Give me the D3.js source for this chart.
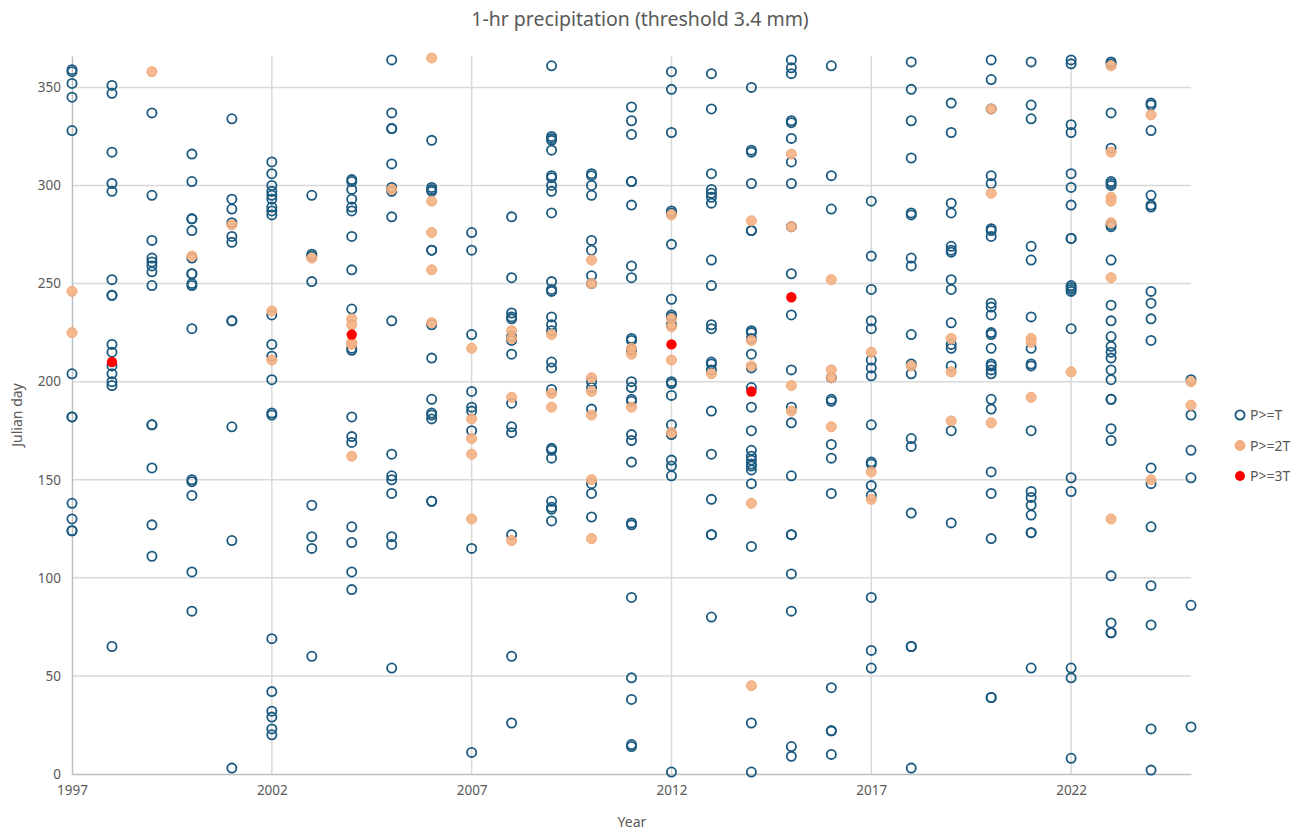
<!DOCTYPE html>
<html>
<head>
<meta charset="utf-8">
<script src="https://cdn.jsdelivr.net/npm/d3@7"></script>
<style>
  body { margin: 0; background: #fff; }
  svg text { font-family: "Noto Sans", "Open Sans", sans-serif; fill: #595959; }
</style>
</head>
<body>
<svg id="chart"></svg>
<script>
// anni (asse x) e giorni giuliani per ogni serie, un elenco per anno
var years = [1997, 1998, 1999, 2000, 2001, 2002, 2003, 2004, 2005, 2006, 2007, 2008, 2009, 2010,
             2011, 2012, 2013, 2014, 2015, 2016, 2017, 2018, 2019, 2020, 2021, 2022, 2023, 2024, 2025];

// P>=T
var daysT = [
  [359, 358, 352, 345, 328, 204, 182, 182, 138, 130, 124, 124],
  [351, 347, 317, 301, 297, 252, 244, 244, 219, 215, 208, 204, 200, 198, 65],
  [337, 295, 272, 263, 261, 259, 256, 249, 178, 178, 156, 127, 111],
  [316, 302, 283, 283, 277, 263, 255, 255, 250, 249, 227, 150, 149, 142, 103, 83],
  [334, 293, 288, 281, 274, 271, 231, 231, 177, 119, 3],
  [312, 306, 300, 297, 295, 293, 289, 287, 285, 234, 219, 213, 201, 184, 183, 69, 42, 32, 29, 23, 20],
  [295, 265, 264, 251, 137, 121, 115, 60],
  [303, 302, 298, 293, 289, 287, 274, 257, 237, 217, 216, 182, 172, 169, 126, 118, 103, 94],
  [364, 337, 329, 329, 311, 299, 297, 284, 231, 163, 152, 150, 143, 121, 117, 54],
  [323, 299, 298, 297, 267, 267, 229, 212, 191, 184, 183, 181, 139, 139],
  [276, 267, 224, 195, 187, 185, 175, 115, 11],
  [284, 253, 235, 233, 232, 223, 221, 214, 189, 177, 174, 122, 60, 26],
  [361, 325, 324, 323, 318, 305, 304, 300, 297, 286, 251, 247, 246, 233, 229, 226, 210, 207, 196, 166, 165, 161, 139, 136, 135, 129],
  [306, 305, 300, 295, 272, 267, 254, 250, 200, 197, 186, 148, 143, 131],
  [340, 333, 326, 302, 302, 290, 259, 253, 222, 221, 216, 200, 197, 191, 190, 173, 170, 159, 128, 127, 90, 49, 38, 15, 14],
  [358, 349, 327, 287, 286, 270, 242, 234, 233, 229, 200, 199, 193, 178, 173, 160, 157, 152, 1],
  [357, 339, 306, 298, 296, 294, 291, 262, 249, 229, 227, 210, 209, 206, 185, 163, 140, 122, 122, 80],
  [350, 318, 317, 301, 277, 277, 226, 225, 222, 214, 207, 197, 187, 175, 165, 162, 160, 158, 157, 155, 148, 116, 26, 1],
  [364, 360, 357, 333, 332, 324, 312, 301, 279, 255, 234, 206, 187, 179, 152, 122, 122, 102, 83, 14, 9],
  [361, 305, 288, 202, 191, 190, 168, 161, 143, 44, 22, 22, 10],
  [292, 264, 247, 231, 227, 211, 207, 203, 178, 159, 158, 147, 142, 90, 63, 54],
  [363, 349, 333, 314, 286, 285, 263, 259, 224, 209, 204, 171, 167, 133, 65, 65, 3],
  [342, 327, 291, 286, 269, 267, 266, 252, 247, 230, 219, 217, 208, 175, 128],
  [364, 354, 339, 305, 301, 278, 277, 274, 240, 238, 234, 225, 224, 217, 209, 208, 206, 204, 191, 186, 154, 143, 120, 39, 39],
  [363, 341, 334, 269, 262, 233, 217, 209, 208, 175, 144, 141, 137, 132, 123, 123, 54],
  [364, 362, 331, 327, 306, 299, 290, 273, 273, 249, 248, 247, 246, 227, 151, 144, 54, 49, 8],
  [363, 362, 337, 319, 302, 301, 300, 280, 279, 262, 239, 231, 223, 218, 215, 212, 206, 201, 191, 191, 176, 170, 101, 77, 72, 72],
  [342, 341, 328, 295, 290, 289, 246, 240, 232, 221, 156, 148, 126, 96, 76, 23, 2],
  [201, 183, 165, 151, 86, 24]
];

// P>=2T
var days2T = [
  [246, 225], [], [358], [264], [280], [236, 211], [263], [232, 229, 220, 219, 162], [298],
  [365, 292, 276, 257, 230], [217, 181, 171, 163, 130], [226, 222, 192, 119], [224, 194, 187],
  [262, 250, 202, 195, 183, 150, 120], [217, 214, 187], [285, 232, 228, 211, 174], [204],
  [282, 221, 208, 138, 45], [316, 279, 198, 185], [252, 206, 202, 177], [215, 154, 140], [208],
  [222, 205, 180], [339, 296, 179], [222, 220, 192], [205], [361, 317, 294, 292, 281, 253, 130],
  [336, 150], [200, 188]
];

// P>=3T
var days3T = [
  [], [210], [], [], [], [], [], [224], [], [], [], [], [], [], [], [219], [], [195], [243],
  [], [], [], [], [], [], [], [], [], []
];

var seriesNames = ["P>=T", "P>=2T", "P>=3T"];
var xTicks = [1997, 2002, 2007, 2012, 2017, 2022];
var yTicks = [0, 50, 100, 150, 200, 250, 300, 350];

var width = 1303, height = 835;
var plotLeft = 72, plotRight = 1191, plotTop = 56, plotBottom = 774;

function toPoints(list) {
  var pts = [];
  for (var i = 0; i < years.length; i++) {
    for (var j = 0; j < list[i].length; j++) {
      pts.push({ year: years[i], day: list[i][j] });
    }
  }
  return pts;
}

var svg = d3.select("#chart").attr("width", width).attr("height", height);

var x = d3.scaleLinear().domain([1997, 2025]).range([plotLeft, plotRight]);
var y = d3.scaleLinear().domain([0, 366]).range([plotBottom, plotTop]);

// griglia
svg.append("g").selectAll("line")
  .data(yTicks.filter(function(d) { return d > 0; }))
  .enter().append("line")
  .attr("x1", plotLeft).attr("x2", plotRight)
  .attr("y1", function(d) { return y(d); }).attr("y2", function(d) { return y(d); })
  .attr("stroke", "#d9d9d9").attr("stroke-width", 1.5);

svg.append("g").selectAll("line")
  .data(xTicks.filter(function(d) { return d > 1997; }))
  .enter().append("line")
  .attr("x1", function(d) { return x(d); }).attr("x2", function(d) { return x(d); })
  .attr("y1", plotTop).attr("y2", plotBottom)
  .attr("stroke", "#d9d9d9").attr("stroke-width", 1.5);

// assi
var xAxis = svg.append("g")
  .attr("transform", "translate(0," + plotBottom + ")")
  .call(d3.axisBottom(x).tickValues(xTicks).tickFormat(d3.format("d")).tickSize(0).tickPadding(11));
var yAxis = svg.append("g")
  .attr("transform", "translate(" + plotLeft + ",0)")
  .call(d3.axisLeft(y).tickValues(yTicks).tickSize(0).tickPadding(11));

xAxis.select(".domain").attr("stroke", "#bfbfbf").attr("stroke-width", 1.5);
yAxis.select(".domain").attr("stroke", "#bfbfbf").attr("stroke-width", 1.5);
svg.selectAll(".tick text").style("font-size", "13.5px").attr("fill", "#595959");

// punti
svg.append("g").selectAll("circle")
  .data(toPoints(daysT))
  .enter().append("circle")
  .attr("cx", function(d) { return x(d.year); })
  .attr("cy", function(d) { return y(d.day); })
  .attr("r", 4.6)
  .attr("fill", "none")
  .attr("stroke", "#1b5a80")
  .attr("stroke-width", 1.8);

svg.append("g").selectAll("circle")
  .data(toPoints(days2T))
  .enter().append("circle")
  .attr("cx", function(d) { return x(d.year); })
  .attr("cy", function(d) { return y(d.day); })
  .attr("r", 5)
  .attr("fill", "#f4b183")
  .attr("fill-opacity", 0.9)
  .attr("stroke", "#f2a877")
  .attr("stroke-width", 1);

svg.append("g").selectAll("circle")
  .data(toPoints(days3T))
  .enter().append("circle")
  .attr("cx", function(d) { return x(d.year); })
  .attr("cy", function(d) { return y(d.day); })
  .attr("r", 5.2)
  .attr("fill", "#ff0000");

// titolo ed etichette
svg.append("text")
  .attr("x", 640).attr("y", 26)
  .attr("text-anchor", "middle")
  .style("font-size", "19.5px")
  .text("1-hr precipitation (threshold 3.4 mm)");

svg.append("text")
  .attr("x", 632).attr("y", 827)
  .attr("text-anchor", "middle")
  .style("font-size", "14px")
  .text("Year");

svg.append("text")
  .attr("transform", "translate(22," + ((plotTop + plotBottom) / 2) + ") rotate(-90)")
  .attr("text-anchor", "middle")
  .style("font-size", "14px")
  .text("Julian day");

// legenda
var legend = svg.append("g").attr("transform", "translate(1240,415)");
var leg = legend.selectAll("g")
  .data(seriesNames)
  .enter().append("g")
  .attr("transform", function(d, i) { return "translate(0," + (i * 30.5) + ")"; });

leg.append("circle")
  .attr("r", function(d, i) { return i == 0 ? 4.6 : 5; })
  .attr("fill", function(d, i) { return i == 0 ? "none" : (i == 1 ? "#f4b183" : "#ff0000"); })
  .attr("stroke", function(d, i) { return i == 0 ? "#1b5a80" : (i == 1 ? "#f2a877" : "none"); })
  .attr("stroke-width", function(d, i) { return i == 0 ? 1.8 : 1; });

leg.append("text")
  .attr("x", 10).attr("y", 5)
  .style("font-size", "14px")
  .text(function(d) { return d; });
</script>
</body>
</html>
